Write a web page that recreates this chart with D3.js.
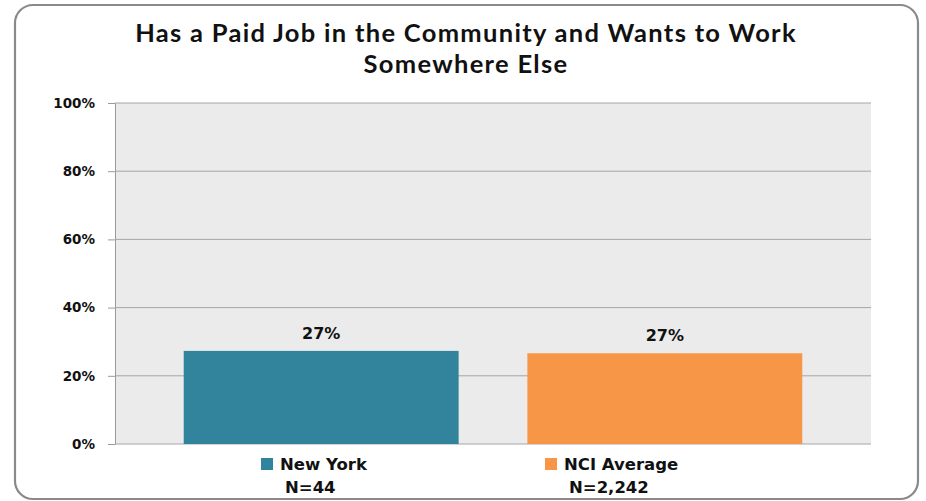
<!DOCTYPE html>
<html><head><meta charset="utf-8">
<script src="https://cdn.jsdelivr.net/npm/d3@7"></script>
<style>html,body{margin:0;padding:0;background:#fff;}svg{display:block;}</style>
</head><body>
<svg id="chart" width="926" height="501"></svg>
<script>
const titleLines = ["Has a Paid Job in the Community and Wants to Work", "Somewhere Else"];
const categories = ["New York", "NCI Average"];
const sampleSizes = ["N=44", "N=2,242"];
const values = [27.3, 26.6];
const valueLabels = ["27%", "27%"];
const colors = ["#31849B", "#F79646"];
const yTicks = [0, 20, 40, 60, 80, 100];

const svg = d3.select("#chart");
const m = {left: 115, right: 871, top: 103, bottom: 444};
const sans = "'DejaVu Sans', Verdana, sans-serif";

svg.append("rect").attr("x", 15).attr("y", 5).attr("width", 903).attr("height", 494)
  .attr("rx", 18).attr("ry", 18).attr("fill", "#fff").attr("stroke", "#8a8a8a").attr("stroke-width", 2.2);

svg.append("g").selectAll("text").data(titleLines).join("text")
  .attr("x", 466).attr("y", (d, i) => 42 + i * 31).attr("text-anchor", "middle")
  .attr("font-family", "Lato, 'Open Sans', sans-serif").attr("font-weight", 700)
  .attr("font-size", 25.5).attr("letter-spacing", 1.3).attr("fill", "#111")
  .text(d => d);

const x = d3.scaleBand().domain(categories).range([m.left, m.right]).paddingInner(0.2).paddingOuter(0.2);
const y = d3.scaleLinear().domain([0, 100]).range([m.bottom, m.top]);

svg.append("rect").attr("x", m.left).attr("y", m.top).attr("width", m.right - m.left)
  .attr("height", m.bottom - m.top).attr("fill", "#EBEBEB");

const yAxis = svg.append("g").attr("transform", `translate(${m.left},0)`)
  .call(d3.axisLeft(y).tickValues(yTicks).tickSize(7).tickPadding(13).tickFormat(d => d + "%"));
yAxis.select(".domain").attr("stroke", "#9a9a9a");
yAxis.selectAll(".tick line").attr("stroke", "#9a9a9a");
yAxis.selectAll(".tick text").attr("font-family", sans)
  .attr("font-weight", 700).attr("font-size", 13.5).attr("fill", "#111");

svg.append("g").selectAll("line").data(yTicks).join("line")
  .attr("x1", m.left).attr("x2", m.right).attr("y1", d => y(d)).attr("y2", d => y(d))
  .attr("stroke", "#a6a6a6").attr("stroke-width", 1);

svg.append("g").selectAll("rect").data(categories).join("rect")
  .attr("x", d => x(d)).attr("width", x.bandwidth())
  .attr("y", (d, i) => y(values[i])).attr("height", (d, i) => y(0) - y(values[i]))
  .attr("fill", (d, i) => colors[i]);

svg.append("g").selectAll("text").data(categories).join("text")
  .attr("x", d => x(d) + x.bandwidth() / 2).attr("y", (d, i) => y(values[i]) - 12)
  .attr("text-anchor", "middle").attr("font-family", sans)
  .attr("font-weight", 700).attr("font-size", 16).attr("fill", "#111")
  .text((d, i) => valueLabels[i]);

const legX = [261, 545];
const leg = svg.append("g").selectAll("g").data(categories).join("g")
  .attr("transform", (d, i) => `translate(${legX[i]},0)`);
leg.append("rect").attr("x", 0).attr("y", 458).attr("width", 12).attr("height", 12)
  .attr("fill", (d, i) => colors[i]);
leg.append("text").attr("x", 19).attr("y", 469.5)
  .attr("font-family", sans).attr("font-weight", 700)
  .attr("font-size", 16.5).attr("fill", "#111").text(d => d);
leg.append("text").attr("x", 24).attr("y", 493)
  .attr("font-family", sans).attr("font-weight", 700)
  .attr("font-size", 16.5).attr("fill", "#111").text((d, i) => sampleSizes[i]);
</script>
</body></html>
